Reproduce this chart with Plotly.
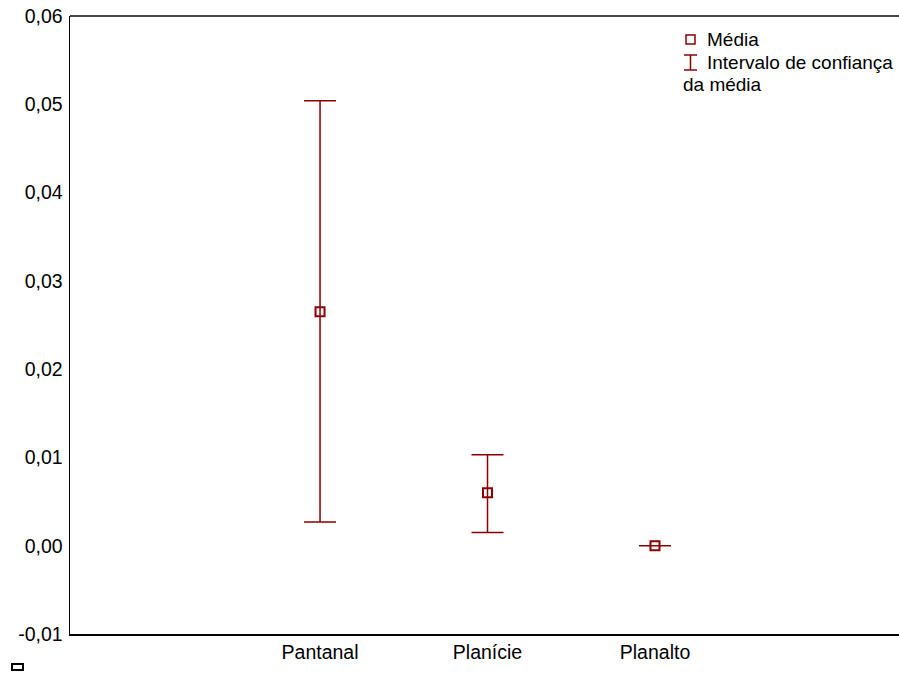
import plotly.graph_objects as go

categories = ["Pantanal", "Planície", "Planalto"]
cat_pos = [1, 2, 3]
means = [0.0265, 0.0060, 0.0000]
upper = [0.0504, 0.0103, 0.0000]
lower = [0.0027, 0.0015, 0.0000]
ytick_vals = [-0.01, 0.0, 0.01, 0.02, 0.03, 0.04, 0.05, 0.06]
ytick_text = ["-0,01", "0,00", "0,01", "0,02", "0,03", "0,04", "0,05", "0,06"]

RED = "#8b0000"
FONT = "Liberation Sans, Arial, sans-serif"

W, H = 899, 675
L, R, T, B = 70, 0, 16, 41
PW, PH = W - L - R, H - T - B


def px(x):
    return (x - L) / PW


def py(y):
    return (H - B - y) / PH


fig = go.Figure()
fig.add_trace(go.Scatter(
    x=cat_pos, y=means, mode="markers",
    marker=dict(symbol="square-open", size=9, color=RED, line=dict(width=2, color=RED)),
    error_y=dict(type="data", symmetric=False,
                 array=[u - m for u, m in zip(upper, means)],
                 arrayminus=[m - l for m, l in zip(means, lower)],
                 color=RED, thickness=1.5, width=16),
    showlegend=False, hoverinfo="skip",
))

fig.update_layout(
    width=W, height=H,
    margin=dict(l=L, r=R, t=T, b=B),
    plot_bgcolor="white", paper_bgcolor="white",
    font=dict(family=FONT, size=19.5, color="black"),
    xaxis=dict(range=[-0.493, 4.457], tickvals=cat_pos, ticktext=categories,
               showgrid=False, zeroline=False, showline=True, linecolor="black",
               linewidth=2, ticks="", ticklen=0, fixedrange=True),
    yaxis=dict(range=[-0.01, 0.06], tickvals=ytick_vals, ticktext=ytick_text,
               showgrid=False, zeroline=False, showline=True, linecolor="black",
               linewidth=1.5, ticks="", fixedrange=True, ticklabelstandoff=2),
    shapes=[
        dict(type="line", xref="paper", yref="paper", x0=0, x1=1, y0=1, y1=1,
             line=dict(color="#444444", width=2)),
        dict(type="rect", xref="paper", yref="paper",
             x0=px(686), x1=px(695), y0=py(44), y1=py(35),
             line=dict(color=RED, width=1.5)),
        dict(type="line", xref="paper", yref="paper", x0=px(690.5), x1=px(690.5),
             y0=py(55), y1=py(70), line=dict(color=RED, width=1.5)),
        dict(type="line", xref="paper", yref="paper", x0=px(684), x1=px(697),
             y0=py(55), y1=py(55), line=dict(color=RED, width=1.5)),
        dict(type="line", xref="paper", yref="paper", x0=px(684), x1=px(697),
             y0=py(70), y1=py(70), line=dict(color=RED, width=1.5)),
        dict(type="rect", xref="paper", yref="paper",
             x0=px(12), x1=px(23), y0=py(670), y1=py(664),
             line=dict(color="black", width=2)),
    ],
    annotations=[
        dict(text="Média", xref="paper", yref="paper", x=px(705), y=py(40),
             xanchor="left", yanchor="middle", showarrow=False, font=dict(size=19)),
        dict(text="Intervalo de confiança", xref="paper", yref="paper", x=px(705), y=py(62),
             xanchor="left", yanchor="middle", showarrow=False, font=dict(size=19)),
        dict(text="da média", xref="paper", yref="paper", x=px(681), y=py(84),
             xanchor="left", yanchor="middle", showarrow=False, font=dict(size=19)),
    ],
)

fig.write_html(
    "out.html",
    config={"displayModeBar": False, "staticPlot": True},
    post_script="document.body.style.margin='0';document.body.style.padding='0';"
                "document.body.style.overflow='hidden';",
)
